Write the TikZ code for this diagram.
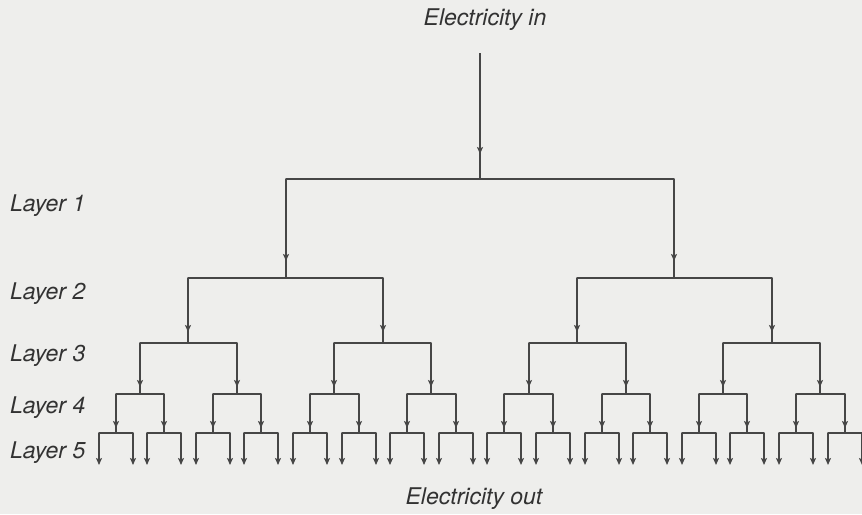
\documentclass[tikz,border=0pt]{standalone}
\usepackage{fontspec}
\setmainfont{TeX Gyre Heros}
\usetikzlibrary{arrows.meta,decorations.markings}
\definecolor{bgc}{RGB}{238,238,236}
\definecolor{inkc}{RGB}{70,70,70}
\definecolor{txtc}{RGB}{50,50,50}
\tikzset{
  wire/.style={draw=inkc, line width=1.6pt},
  arr/.style={postaction={decorate}, decoration={markings, mark=at position #1 with {\arrow[inkc]{Stealth[length=7pt,width=6pt,inset=1.5pt]}}}},
  lbl/.style={text=txtc, font=\fontsize{23}{26}\selectfont\itshape, inner sep=0pt},
}
\begin{document}
\begin{tikzpicture}[x=1pt,y=-1pt]
\fill[bgc] (0,0) rectangle (862,514);
\useasboundingbox (0,0) rectangle (862,514);
% texts
\node[lbl] (ein) at (485,20) {Electricity in};
\node[lbl] (eout) at (474,499) {Electricity out};
\node[lbl, anchor=west] (lay1) at (10,206) {Layer 1};
\node[lbl, anchor=west] (lay2) at (10,294) {Layer 2};
\node[lbl, anchor=west] (lay3) at (10,356) {Layer 3};
\node[lbl, anchor=west] (lay4) at (10,408) {Layer 4};
\node[lbl, anchor=west] (lay5) at (10,453) {Layer 5};
% bar centres
\coordinate (in) at (480,53);
\coordinate (b1-0) at (480,179);
\foreach \i in {0,1} \coordinate (b2-\i) at ({round(115.5+48.6*(8*\i+3.5))},278);
\foreach \i in {0,...,3} \coordinate (b3-\i) at ({round(115.5+48.6*(4*\i+1.5))},343);
\foreach \i in {0,...,7} \coordinate (b4-\i) at ({round(115.5+48.6*(2*\i+0.5))},394);
\foreach \i in {0,...,15} \coordinate (b5-\i) at ({round(115.5+48.6*\i)},433);
\foreach \k in {0,...,31} \coordinate (o-\k) at ({round(115.5+48.6*floor(\k/2)+34*(mod(\k,2)-0.5))},465);
% bar end points
\foreach \L/\n in {1/1,2/3,3/7,4/15} {
  \foreach \j in {0,...,\n} {
    \pgfmathtruncatemacro\pidx{\j/2}
    \pgfmathtruncatemacro\cidx{\L+1}
    \coordinate (e\L-\j) at (b\cidx-\j |- b\L-\pidx);
  }
}
\foreach \j in {0,...,31} {
  \pgfmathtruncatemacro\pidx{\j/2}
  \coordinate (e5-\j) at (o-\j |- b5-\pidx);
}
% horizontal bars
\foreach \L/\m in {1/0,2/1,3/3,4/7,5/15} {
  \foreach \i in {0,...,\m} {
    \pgfmathtruncatemacro\ja{2*\i}
    \pgfmathtruncatemacro\jb{2*\i+1}
    \draw[wire, line cap=round] (e\L-\ja) -- (e\L-\jb);
  }
}
% verticals
\draw[wire, arr=-25pt] (in) -- (b1-0);
\foreach \j in {0,1} \draw[wire, arr=-17pt] (e1-\j) -- (b2-\j);
\foreach \j in {0,...,3} \draw[wire, arr=-11pt] (e2-\j) -- (b3-\j);
\foreach \j in {0,...,7} \draw[wire, arr=-7pt] (e3-\j) -- (b4-\j);
\foreach \j in {0,...,15} \draw[wire, arr=-5pt] (e4-\j) -- (b5-\j);
\foreach \j in {0,...,31} \draw[wire, -{Stealth[length=7pt,width=6pt,inset=1.5pt]}] (e5-\j) -- (o-\j);
\end{tikzpicture}
\end{document}
